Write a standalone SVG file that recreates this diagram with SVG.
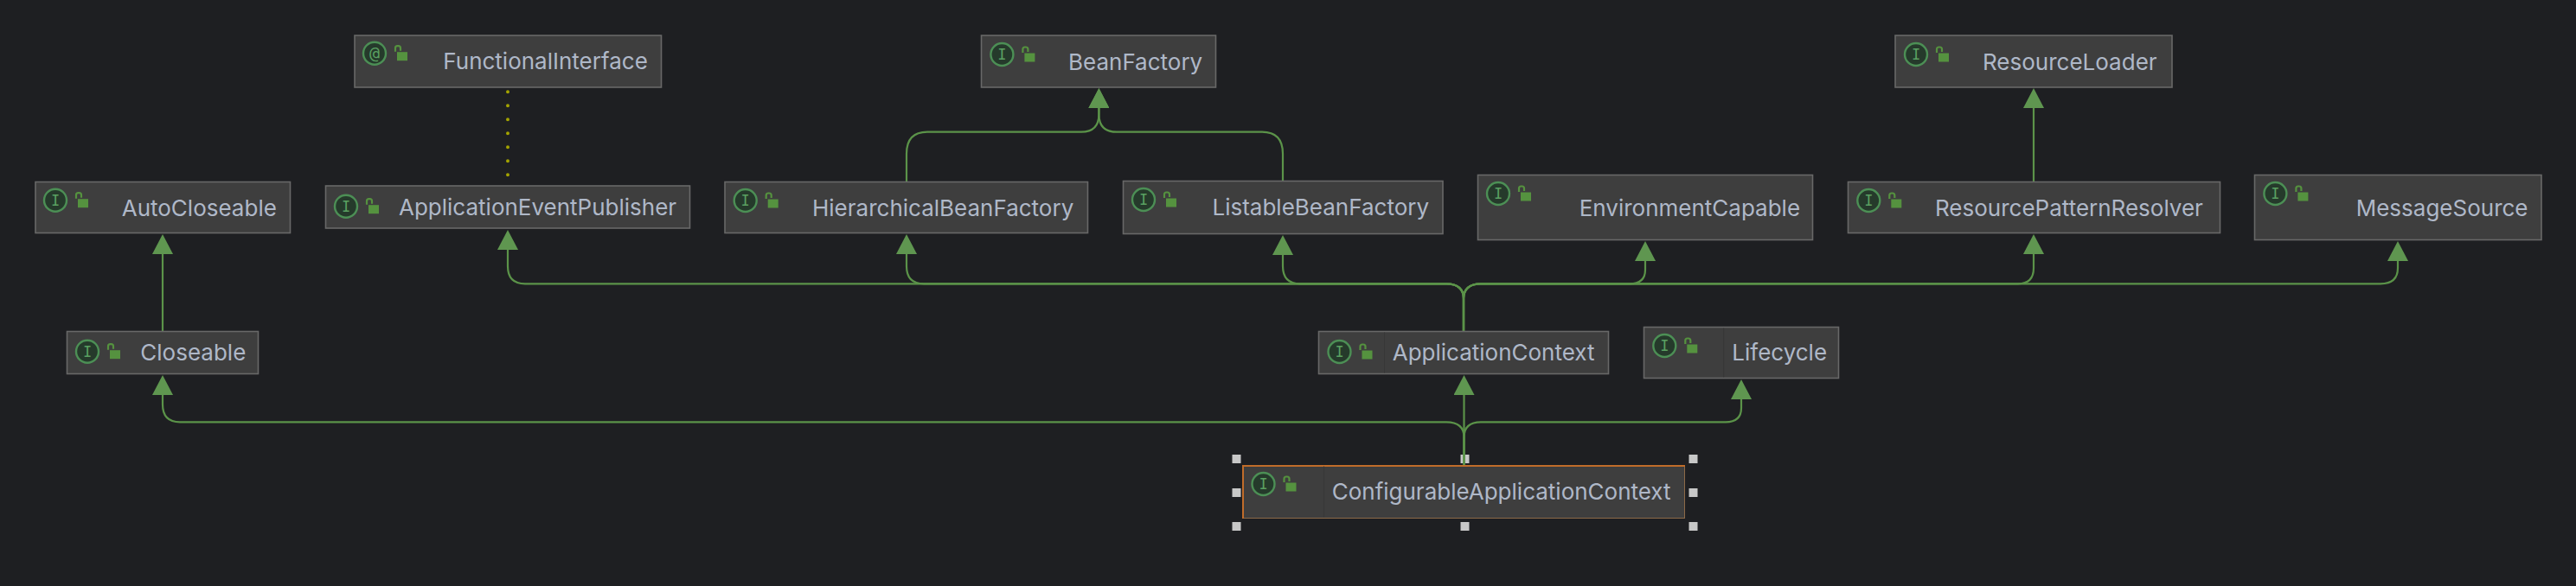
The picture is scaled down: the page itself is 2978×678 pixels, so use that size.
<svg xmlns="http://www.w3.org/2000/svg" width="2978" height="678" viewBox="0 0 2978 678">
<style>
.box{fill:#3e3e3e;stroke:#686868;stroke-width:1.6}
.sel{stroke:#8c6a48;stroke-width:1}
.selb{fill:none;stroke:#c06c2a;stroke-width:2}
.div{stroke:#373737;stroke-width:1}
.lbl{font-family:"Inter","Liberation Sans",sans-serif;font-size:26px;fill:#afb8c8}
.ic{fill:#253a2b;stroke:#4c8f55;stroke-width:2.4}
.ict{font-family:"DejaVu Sans Mono","Liberation Mono",monospace;font-size:17px;fill:#5aa061;text-anchor:middle}
.at{font-size:20px}
.lk{fill:#55923f}
.sh{fill:none;stroke:#55923f;stroke-width:2.2}
.edge{fill:none;stroke:#5b9349;stroke-width:2.2}
.arr{marker-end:url(#tri)}
.dot{fill:none;stroke:#a3a300;stroke-width:4;stroke-linecap:round;stroke-dasharray:0 16}
.hd{fill:#c8c8c8}
</style>
<defs>
<marker id="tri" markerUnits="userSpaceOnUse" viewBox="0 0 23 24" refX="0" refY="12" markerWidth="23" markerHeight="24" orient="auto"><path d="M0 0L23 12L0 24z" fill="#5f9650"/></marker>
<g id="lock"><rect class="lk" x="26" y="-1.500" width="12" height="10"/><path class="sh" d="M24 -2V-6a2.500 2.500 0 0 1 2.500-2.500h1a2.500 2.500 0 0 1 2.500 2.500V-3"/></g>
</defs>
<rect width="2978" height="678" fill="#1e1f22"/>
<g id="handles">
<rect class="hd" x="1424.500" y="526" width="10" height="10"/><rect class="hd" x="1688.500" y="526" width="10" height="10"/><rect class="hd" x="1952.500" y="526" width="10" height="10"/>
<rect class="hd" x="1424.500" y="565" width="10" height="10"/><rect class="hd" x="1952.500" y="565" width="10" height="10"/>
<rect class="hd" x="1424.500" y="604" width="10" height="10"/><rect class="hd" x="1688.500" y="604" width="10" height="10"/><rect class="hd" x="1952.500" y="604" width="10" height="10"/>
</g>
<g id="connectors">
<path class="dot" d="M587 106.300V204"/>
<path class="edge arr" d="M188 383V294"/>
<path class="edge arr" d="M2351 210V125"/>
<path class="edge arr" d="M1048 210V178Q1048 152.700 1072 152.700H1250Q1270.400 152.700 1270.400 132V125"/>
<path class="edge arr" d="M1483 209V178Q1483 152.700 1459 152.700H1291Q1270.400 152.700 1270.400 132V125"/>
<path class="edge arr" d="M1692 383V346Q1692 328.300 1672 328.300H607Q587 328.300 587 308V289"/>
<path class="edge arr" d="M1692 383V346Q1692 328.300 1672 328.300H1068Q1048 328.300 1048 308V294"/>
<path class="edge arr" d="M1692 383V346Q1692 328.300 1672 328.300H1503Q1483 328.300 1483 308V295"/>
<path class="edge arr" d="M1692 383V346Q1692 328.300 1712 328.300H1884Q1902 328.300 1902 312V302"/>
<path class="edge arr" d="M1692 383V346Q1692 328.300 1712 328.300H2333Q2351 328.300 2351 310V294"/>
<path class="edge arr" d="M1692 383V346Q1692 328.300 1712 328.300H2752Q2772 328.300 2772 310V302"/>
<path class="edge arr" d="M1692.500 538V457"/>
<path class="edge arr" d="M1692.500 538V506Q1692.500 488.300 1672 488.300H208Q188 488.300 188 468V457"/>
<path class="edge arr" d="M1692.500 538V506Q1692.500 488.300 1712 488.300H1995Q2013 488.300 2013 472V462"/>
</g>
<g id="FunctionalInterface"><rect class="box" x="410" y="41" width="354.500" height="60"/><circle class="ic" cx="433" cy="61.700" r="13"/><text class="ict at" x="433" y="67.500">@</text><use href="#lock" x="433" y="61.700"/><text class="lbl" x="512.300" y="80">FunctionalInterface</text></g>
<g id="BeanFactory"><rect class="box" x="1134.500" y="41" width="271" height="60"/><circle class="ic" cx="1158.400" cy="63" r="13"/><text class="ict" x="1158.400" y="69">I</text><use href="#lock" x="1158.400" y="63"/><text class="lbl" x="1235" y="80.700">BeanFactory</text></g>
<g id="ResourceLoader"><rect class="box" x="2191" y="41" width="320" height="60"/><circle class="ic" cx="2215" cy="63" r="13"/><text class="ict" x="2215" y="69">I</text><use href="#lock" x="2215" y="63"/><text class="lbl" x="2292" y="80.700">ResourceLoader</text></g>
<g id="AutoCloseable"><rect class="box" x="41" y="210.500" width="294.500" height="59"/><circle class="ic" cx="64" cy="231.700" r="13"/><text class="ict" x="64" y="237.700">I</text><use href="#lock" x="64" y="231.700"/><text class="lbl" x="140.700" y="250">AutoCloseable</text></g>
<g id="ApplicationEventPublisher"><rect class="box" x="376.500" y="215" width="421" height="49"/><circle class="ic" cx="400" cy="238.700" r="13"/><text class="ict" x="400" y="244.700">I</text><use href="#lock" x="400" y="238.700"/><text class="lbl" x="461" y="248.700">ApplicationEventPublisher</text></g>
<g id="HierarchicalBeanFactory"><rect class="box" x="838" y="210.500" width="419.500" height="59"/><circle class="ic" cx="861.700" cy="232" r="13"/><text class="ict" x="861.700" y="238">I</text><use href="#lock" x="861.700" y="232"/><text class="lbl" x="939" y="250">HierarchicalBeanFactory</text></g>
<g id="ListableBeanFactory"><rect class="box" x="1298.500" y="209.500" width="369.500" height="61"/><circle class="ic" cx="1322" cy="231" r="13"/><text class="ict" x="1322" y="237">I</text><use href="#lock" x="1322" y="231"/><text class="lbl" x="1401.500" y="248.700">ListableBeanFactory</text></g>
<g id="EnvironmentCapable"><rect class="box" x="1708.500" y="202.500" width="387" height="75"/><circle class="ic" cx="1732" cy="224" r="13"/><text class="ict" x="1732" y="230">I</text><use href="#lock" x="1732" y="224"/><text class="lbl" x="1825.700" y="250">EnvironmentCapable</text></g>
<g id="ResourcePatternResolver"><rect class="box" x="2136.500" y="210.500" width="430" height="59"/><circle class="ic" cx="2160.300" cy="232" r="13"/><text class="ict" x="2160.300" y="238">I</text><use href="#lock" x="2160.300" y="232"/><text class="lbl" x="2237" y="249.700">ResourcePatternResolver</text></g>
<g id="MessageSource"><rect class="box" x="2606.500" y="202.500" width="331.500" height="75"/><circle class="ic" cx="2630.400" cy="224" r="13"/><text class="ict" x="2630.400" y="230">I</text><use href="#lock" x="2630.400" y="224"/><text class="lbl" x="2723.700" y="249.700">MessageSource</text></g>
<g id="Closeable"><rect class="box" x="77.500" y="383.500" width="221" height="49"/><circle class="ic" cx="101" cy="406.700" r="13"/><text class="ict" x="101" y="412.700">I</text><use href="#lock" x="101" y="406.700"/><text class="lbl" x="162.300" y="416.700">Closeable</text></g>
<g id="ApplicationContext"><rect class="box" x="1524.500" y="383.500" width="335" height="49"/><path class="div" d="M1600.500 384.500V431.500"/><circle class="ic" cx="1548.500" cy="407" r="13"/><text class="ict" x="1548.500" y="413">I</text><use href="#lock" x="1548.500" y="407"/><text class="lbl" x="1609.700" y="417">ApplicationContext</text></g>
<g id="Lifecycle"><rect class="box" x="1900.500" y="378.500" width="225" height="59"/><path class="div" d="M1992.700 379.500V436.500"/><circle class="ic" cx="1924.300" cy="400" r="13"/><text class="ict" x="1924.300" y="406">I</text><use href="#lock" x="1924.300" y="400"/><text class="lbl" x="2002.300" y="417.300">Lifecycle</text></g>
<g id="ConfigurableApplicationContext"><rect class="box sel" x="1436.500" y="538.500" width="511" height="61"/><path class="selb" d="M1437 600V539H1948"/><path class="div" d="M1530.500 539.500V598.500"/><circle class="ic" cx="1460.500" cy="560" r="13"/><text class="ict" x="1460.500" y="566">I</text><use href="#lock" x="1460.500" y="560"/><text class="lbl" x="1539.700" y="578">ConfigurableApplicationContext</text></g>
</svg>
